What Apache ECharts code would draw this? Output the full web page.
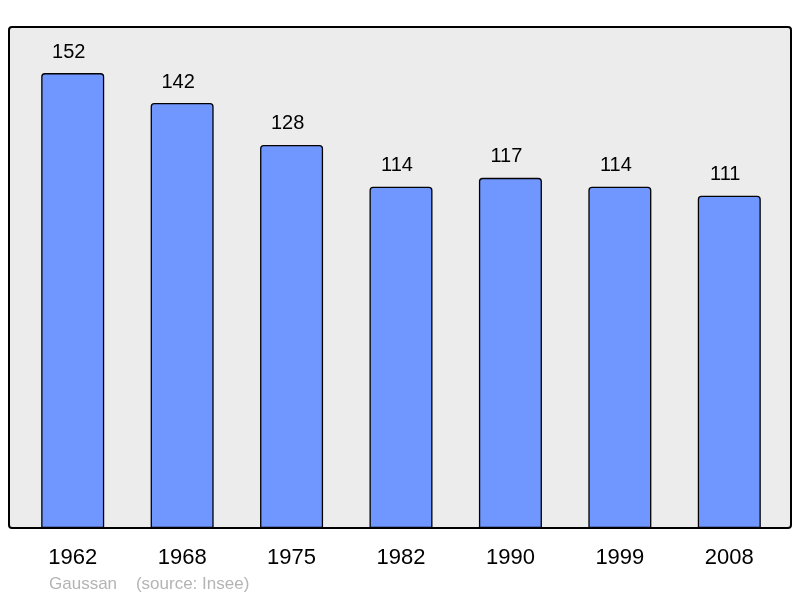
<!DOCTYPE html>
<html><head><meta charset="utf-8">
<script src="https://cdn.jsdelivr.net/npm/echarts@6/dist/echarts.min.js"></script>
<style>html,body{margin:0;padding:0;background:#fff}#c{width:800px;height:598px}</style>
</head><body><div id="c"></div>
<script>
const years = ['1962','1968','1975','1982','1990','1999','2008'];
const population = [152,142,128,114,117,114,111];
const credit = 'Gaussan    (source: Insee)';

const chart = echarts.init(document.getElementById('c'), null, {renderer:'canvas'});
chart.setOption({
  animation:false,
  backgroundColor:'#ffffff',
  textStyle:{fontFamily:'Liberation Sans'},
  graphic:[
    {type:'rect', z:-10, shape:{x:9,y:27,width:782,height:501,r:3},
     style:{fill:'#ececec', stroke:'#000', lineWidth:2}},
    {type:'text', left:49, top:576, style:{text:credit, fill:'#b4b4b4', font:'17px "Liberation Sans"'}}
  ],
  grid:{left:18, right:16, top:27, bottom:70},
  xAxis:{type:'category', data:years,
    axisLine:{show:false}, axisTick:{show:false},
    axisLabel:{color:'#000', fontSize:22, margin:19, fontFamily:'Liberation Sans'}},
  yAxis:{type:'value', min:0, max:167.4, show:false, splitLine:{show:false}},
  series:[{type:'bar', data:population, barWidth:63,
    itemStyle:{color:'#7096ff', borderColor:'#000', borderWidth:1.3, borderRadius:[3,3,0,0]},
    label:{show:true, position:'top', distance:11, offset:[-4,0], color:'#000', fontSize:20, fontFamily:'Liberation Sans'}
  }]
});
</script></body></html>
